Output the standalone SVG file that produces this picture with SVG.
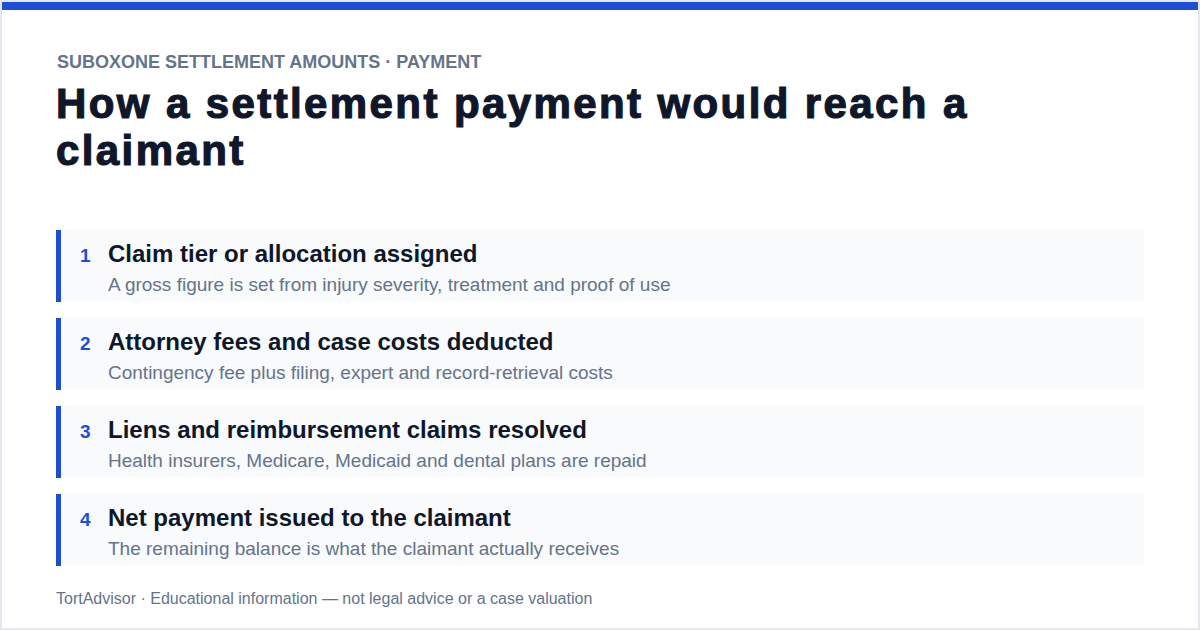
<svg xmlns="http://www.w3.org/2000/svg" width="1200" height="630" viewBox="0 0 1200 630">
<style>
.eyebrow{font-family:"Liberation Sans",Arial,sans-serif;font-size:18px;font-weight:700;fill:#64748b}
.title{font-family:"Liberation Sans",Arial,sans-serif;font-size:42px;font-weight:700;fill:#0f172a;stroke:#0f172a;stroke-width:1.2px;letter-spacing:2.4px}
.card{fill:#f8fafc}
.accent{fill:#1d4ed8}
.num{font-family:"Liberation Sans",Arial,sans-serif;font-size:19px;font-weight:700;fill:#1d4ed8}
.head{font-family:"Liberation Sans",Arial,sans-serif;font-size:24px;font-weight:700;fill:#0f172a}
.sub{font-family:"Liberation Sans",Arial,sans-serif;font-size:19px;fill:#64748b}
.foot{font-family:"Liberation Sans",Arial,sans-serif;font-size:16px;fill:#64748b}
</style>
<rect x="0" y="0" width="1200" height="630" fill="#e2e8f0"/>
<rect x="2" y="2" width="1196" height="626" fill="#ffffff"/>
<rect x="2" y="2" width="1196" height="8" fill="#1d4ed8"/>
<text class="eyebrow" x="57" y="68">SUBOXONE SETTLEMENT AMOUNTS · PAYMENT</text>
<text class="title" x="56" y="118">How a settlement payment would reach a</text>
<text class="title" x="56" y="165">claimant</text>
<g id="step1">
<rect class="card" x="56" y="230" width="1088" height="72"/>
<rect class="accent" x="56" y="230" width="5" height="72"/>
<text class="num" x="80" y="262">1</text>
<text class="head" x="108" y="262">Claim tier or allocation assigned</text>
<text class="sub" x="108" y="291">A gross figure is set from injury severity, treatment and proof of use</text>
</g>
<g id="step2">
<rect class="card" x="56" y="318" width="1088" height="72"/>
<rect class="accent" x="56" y="318" width="5" height="72"/>
<text class="num" x="80" y="350">2</text>
<text class="head" x="108" y="350">Attorney fees and case costs deducted</text>
<text class="sub" x="108" y="379">Contingency fee plus filing, expert and record-retrieval costs</text>
</g>
<g id="step3">
<rect class="card" x="56" y="406" width="1088" height="72"/>
<rect class="accent" x="56" y="406" width="5" height="72"/>
<text class="num" x="80" y="438">3</text>
<text class="head" x="108" y="438">Liens and reimbursement claims resolved</text>
<text class="sub" x="108" y="467">Health insurers, Medicare, Medicaid and dental plans are repaid</text>
</g>
<g id="step4">
<rect class="card" x="56" y="494" width="1088" height="72"/>
<rect class="accent" x="56" y="494" width="5" height="72"/>
<text class="num" x="80" y="526">4</text>
<text class="head" x="108" y="526">Net payment issued to the claimant</text>
<text class="sub" x="108" y="555">The remaining balance is what the claimant actually receives</text>
</g>
<g id="connectors"></g>
<text class="foot" x="56" y="604">TortAdvisor · Educational information — not legal advice or a case valuation</text>
</svg>
